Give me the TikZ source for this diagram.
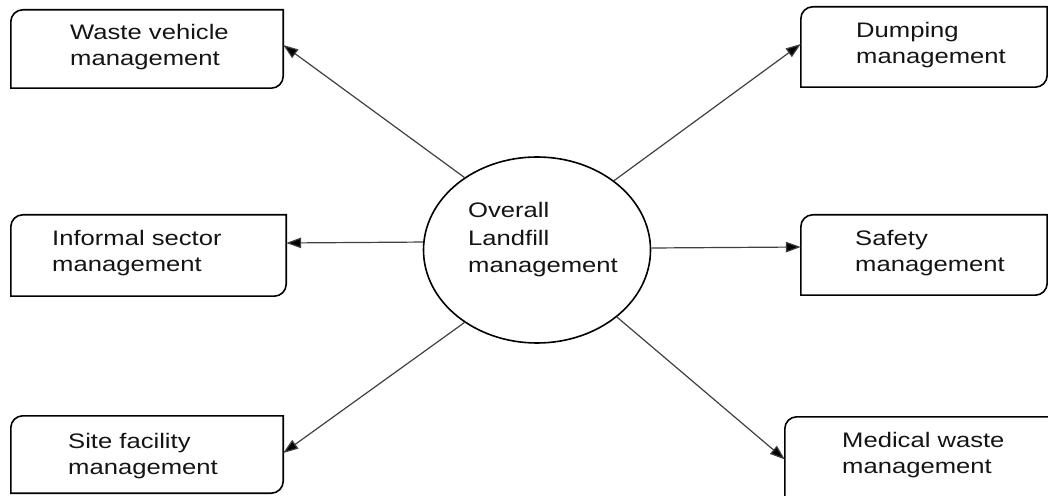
\documentclass[tikz,border=0pt]{standalone}
\usepackage{fontspec}
\setmainfont{Liberation Sans}[FakeStretch=1.22]
\usetikzlibrary{shapes.geometric,arrows.meta}
\definecolor{txtcol}{HTML}{141414}
\definecolor{arrcol}{HTML}{404040}
\newcommand\halfroundbox[1]{%
  \draw[boxline] ([yshift=-12pt]#1.north west) arc[start angle=180,end angle=90,radius=12pt]
    -- (#1.north east) -- ([yshift=12pt]#1.south east) arc[start angle=0,end angle=-90,radius=12pt]
    -- (#1.south west) -- cycle;}
\tikzset{
  boxshape/.style={rectangle,draw=none,inner sep=0pt},
  boxline/.style={line width=1.6pt,black},
  txt/.style={inner sep=0pt,align=left,anchor=west,text=txtcol,font=\fontsize{21}{26.5}\selectfont},
  conn/.style={line width=1.2pt,draw=arrcol,-{Triangle[length=15pt,width=10.5pt,fill=black]}},
}
\begin{document}
\begin{tikzpicture}[x=1pt,y=1pt]
\useasboundingbox (0,0) rectangle (1048,495);
% boxes
\node[boxshape,minimum width=272pt,minimum height=78pt] (wv) at (147,446) {};
\node[boxshape,minimum width=246pt,minimum height=80pt] (dump) at (924,448) {};
\node[boxshape,minimum width=275pt,minimum height=81pt] (inf) at (148.5,239.5) {};
\node[boxshape,minimum width=246pt,minimum height=80pt] (saf) at (924,240) {};
\node[boxshape,minimum width=272pt,minimum height=77pt] (site) at (147,40.5) {};
\node[boxshape,minimum width=267pt,minimum height=85pt] (med) at (918.5,35.5) {};
\halfroundbox{wv}
\halfroundbox{dump}
\halfroundbox{inf}
\halfroundbox{saf}
\halfroundbox{site}
\halfroundbox{med}
% texts
\node[txt] (wvt) at (70,448) {Waste vehicle\\management};
\node[txt] (dumpt) at (856,450) {Dumping\\management};
\node[txt] (inft) at (52,242) {Informal sector\\management};
\node[txt] (saft) at (855,242) {Safety\\management};
\node[txt] (sitet) at (68,39) {Site facility\\management};
\node[txt] (medt) at (842,40) {Medical waste\\management};
% centre
\node[ellipse,draw,line width=1.6pt,minimum width=227pt,minimum height=186pt,inner sep=0pt] (c) at (537,245) {};
\node[txt,font=\fontsize{21}{27.5}\selectfont] (ct) at (468,255) {Overall\\Landfill\\management};
% connectors
\draw[conn] (c.135.4) -- ([yshift=4pt]wv.east);
\draw[conn] (c.42.6) -- ([yshift=3pt]dump.west);
\draw[conn] (c.176.5) -- ([yshift=12.5pt]inf.east);
\draw[conn] (c.1.5) -- ([yshift=8pt]saf.west);
\draw[conn] (c.-135.4) -- ([yshift=1.5pt]site.east);
\draw[conn] (c.-40.4) -- (med.west);
\end{tikzpicture}
\end{document}
